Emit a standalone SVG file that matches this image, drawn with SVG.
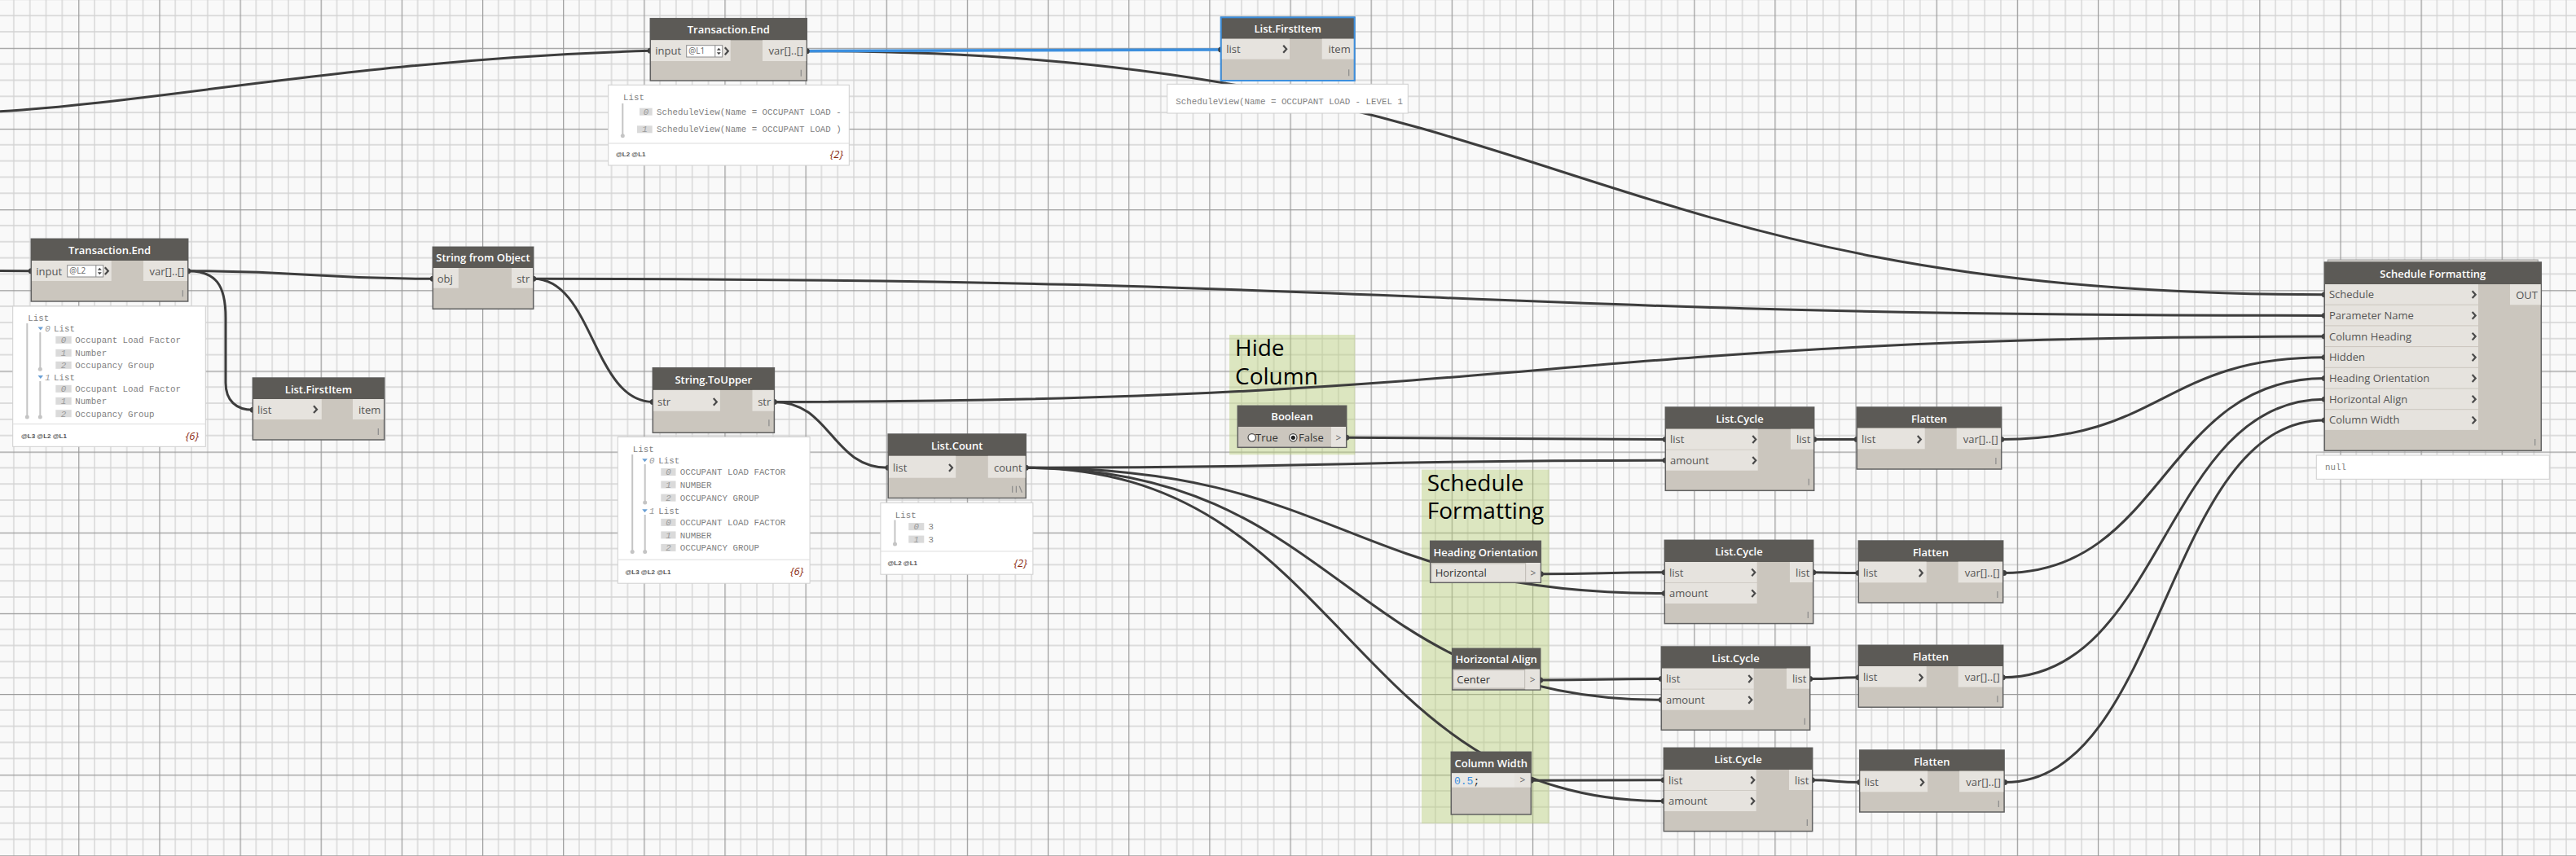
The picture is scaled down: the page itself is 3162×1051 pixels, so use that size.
<svg xmlns="http://www.w3.org/2000/svg" width="3162" height="1051" viewBox="0 0 3162 1051">
<style>
.hd{fill:#5c5a56}
.bd{fill:#cbc6be;stroke:#606060;stroke-width:1.5}
.pt{fill:#e6e3de}
.t{font-family:"Open Sans","Liberation Sans",sans-serif;font-weight:600;font-size:13px;fill:#ffffff;text-anchor:middle}
.p{font-family:"Open Sans","Liberation Sans",sans-serif;font-size:13px;fill:#555555}
.pe{font-family:"Open Sans","Liberation Sans",sans-serif;font-size:13px;fill:#555555;text-anchor:end}
.dk{font-family:"Open Sans","Liberation Sans",sans-serif;font-size:13px;fill:#333333}
.gy{font-family:"Open Sans","Liberation Sans",sans-serif;font-size:12px;fill:#666666;text-anchor:middle}
.ch{fill:none;stroke:#4a4a4a;stroke-width:2.2}
.lc{stroke:#8a8a8a;stroke-width:1.2}
.wb{fill:#ffffff;stroke:#cfcfcf;stroke-width:1}
.dv{stroke:#dcdcdc;stroke-width:1}
.m{font-family:"Liberation Mono","DejaVu Sans Mono",monospace;font-size:10.8px;fill:#7f7f7f}
.ib{fill:#dadada}
.ix{font-family:"Liberation Mono","DejaVu Sans Mono",monospace;font-style:italic;font-size:10.8px;fill:#999999;text-anchor:middle}
.tl{stroke:#c4c4c4;stroke-width:2}
.dt{fill:#c4c4c4}
.tri{fill:#6a9fd4}
.ft{font-family:"Liberation Sans",sans-serif;font-weight:bold;font-size:8px;fill:#555555}
.cn{font-family:"Open Sans","Liberation Sans",sans-serif;font-style:italic;font-size:13px;fill:#8b2b12;text-anchor:end}
.c{fill:none;stroke:#3d3d3d;stroke-width:3}
.cb{fill:none;stroke:#3c8fde;stroke-width:3.5}
.pin{fill:#3d3d3d}
.grp{fill:#b9cf7a;fill-opacity:0.45}
.gt{font-family:"Open Sans","Liberation Sans",sans-serif;font-size:28px;fill:#000000}
.sp{fill:#444444}
.ibx{fill:#ffffff;stroke:#8a8a8a;stroke-width:1}
.ibt{font-family:"Open Sans","Liberation Sans",sans-serif;font-size:10px;fill:#666666}
.dd{fill:#e6e3de;stroke:#bdb9b3;stroke-width:1}
</style>
<defs>
<pattern id="grid" x="96.2" y="58.8" width="99.15" height="99.15" patternUnits="userSpaceOnUse">
<rect width="99.15" height="99.15" fill="#f9f9f9"/>
<path d="M19.83 0V99.15M39.66 0V99.15M59.49 0V99.15M79.32 0V99.15M0 19.83H99.15M0 39.66H99.15M0 59.49H99.15M0 79.32H99.15" stroke="#d3d3d3" stroke-width="1.3"/>
<path d="M0.6 0V99.15M0 0.6H99.15" stroke="#9a9a9a" stroke-width="1.2"/>
</pattern>
</defs>
<rect width="3162" height="1051" fill="url(#grid)"/>

<g id="group-hide-column">
<rect class="grp" x="1509" y="411" width="154.3" height="147.3"/>
<text class="gt" x="1516" y="437">Hide</text>
<text class="gt" x="1516" y="472">Column</text>
</g>
<g id="group-schedule-formatting">
<rect class="grp" x="1745" y="576.7" width="156.7" height="434.3"/>
<text class="gt" x="1751.7" y="603">Schedule</text>
<text class="gt" x="1751.7" y="637">Formatting</text>
</g>

<g id="connectors">
<path class="c" d="M0,136.7 C200,125 450,72 798.3,62.3"/>
<path class="c" d="M990.3,62.7 C1921.8,62.7 1921.8,361.7 2853.3,361.7"/>
<path class="cb" d="M990.3,62.7 C1244.5,62.7 1244.5,61 1498.7,61"/>
<path class="c" d="M0,332.5 L38.3,332.7"/>
<path class="c" d="M230.7,332.7 C381,332.7 381,342.3 531.3,342.3"/>
<path class="c" d="M230.7,332.7 C265,332.7 277,350 277,390 L277,470 C277,492 290,503.3 310.3,503.3"/>
<path class="c" d="M654.7,342.3 C1754,342.3 1754,387.4 2853.3,387.4"/>
<path class="c" d="M654.7,342.3 C728,342.3 728,493.4 801.3,493.4"/>
<path class="c" d="M950.4,493.4 C1901.9,493.4 1901.9,413.1 2853.3,413.1"/>
<path class="c" d="M950.4,493.4 C1020.3,493.4 1020.3,574.3 1090.2,574.3"/>
<path class="c" d="M1652.7,537.3 C1848.5,537.3 1848.5,539.5 2044.3,539.5"/>
<path class="c" d="M1259.3,574.3 C1651.8,574.3 1651.8,565.3 2044.3,565.3"/>
<path class="c" d="M1259.3,574.3 C1651.3,574.3 1651.3,728.6 2043.3,728.6"/>
<path class="c" d="M1259.3,574.3 C1649.3,574.3 1649.3,859.3 2039.3,859.3"/>
<path class="c" d="M1259.3,574.3 C1650.8,574.3 1650.8,983.6 2042.3,983.6"/>
<path class="c" d="M1891.3,704.7 C1967.3,704.7 1967.3,702.8 2043.3,702.8"/>
<path class="c" d="M1890.7,835 C1965,835 1965,833.5 2039.3,833.5"/>
<path class="c" d="M1879.3,958.3 C1960.8,958.3 1960.8,957.8 2042.3,957.8"/>
<path class="c" d="M2226.7,539.5 C2253,539.5 2253,539.5 2279.3,539.5"/>
<path class="c" d="M2225.7,702.8 C2253.5,702.8 2253.5,703.5 2281.3,703.5"/>
<path class="c" d="M2221.7,833.5 C2251.5,833.5 2251.5,831.8 2281.3,831.8"/>
<path class="c" d="M2224.3,957.8 C2253.5,957.8 2253.5,960.5 2282.7,960.5"/>
<path class="c" d="M2456.7,539.5 C2655,539.5 2655,438.8 2853.3,438.8"/>
<path class="c" d="M2459.7,703.5 C2656.5,703.5 2656.5,464.5 2853.3,464.5"/>
<path class="c" d="M2458.3,831.8 C2655.8,831.8 2655.8,490.2 2853.3,490.2"/>
<path class="c" d="M2460.7,960.5 C2657,960.5 2657,515.9 2853.3,515.9"/>
<g class="pin">
<circle cx="798.3" cy="62.3" r="3.5"/><circle cx="990.3" cy="62.7" r="3.5"/><circle cx="1498.7" cy="61" r="3.5"/>
<circle cx="38.3" cy="332.7" r="3.5"/><circle cx="230.7" cy="332.7" r="3.5"/><circle cx="531.3" cy="342.3" r="3.5"/>
<circle cx="310.3" cy="503.3" r="3.5"/><circle cx="654.7" cy="342.3" r="3.5"/><circle cx="801.3" cy="493.4" r="3.5"/>
<circle cx="950.4" cy="493.4" r="3.5"/><circle cx="1090.2" cy="574.3" r="3.5"/><circle cx="1259.3" cy="574.3" r="3.5"/>
<circle cx="1652.7" cy="537.3" r="3.5"/><circle cx="1891.3" cy="704.7" r="3.5"/><circle cx="1890.7" cy="835" r="3.5"/><circle cx="1879.3" cy="958.3" r="3.5"/>
<circle cx="2044.3" cy="539.5" r="3.5"/><circle cx="2044.3" cy="565.3" r="3.5"/><circle cx="2043.3" cy="702.8" r="3.5"/><circle cx="2043.3" cy="728.6" r="3.5"/>
<circle cx="2039.3" cy="833.5" r="3.5"/><circle cx="2039.3" cy="859.3" r="3.5"/><circle cx="2042.3" cy="957.8" r="3.5"/><circle cx="2042.3" cy="983.6" r="3.5"/>
<circle cx="2226.7" cy="539.5" r="3.5"/><circle cx="2225.7" cy="702.8" r="3.5"/><circle cx="2221.7" cy="833.5" r="3.5"/><circle cx="2224.3" cy="957.8" r="3.5"/>
<circle cx="2279.3" cy="539.5" r="3.5"/><circle cx="2281.3" cy="703.5" r="3.5"/><circle cx="2281.3" cy="831.8" r="3.5"/><circle cx="2282.7" cy="960.5" r="3.5"/>
<circle cx="2456.7" cy="539.5" r="3.5"/><circle cx="2459.7" cy="703.5" r="3.5"/><circle cx="2458.3" cy="831.8" r="3.5"/><circle cx="2460.7" cy="960.5" r="3.5"/>
<circle cx="2853.3" cy="361.7" r="3.5"/><circle cx="2853.3" cy="387.4" r="3.5"/><circle cx="2853.3" cy="413.1" r="3.5"/><circle cx="2853.3" cy="438.8" r="3.5"/>
<circle cx="2853.3" cy="464.5" r="3.5"/><circle cx="2853.3" cy="490.2" r="3.5"/><circle cx="2853.3" cy="515.9" r="3.5"/>
</g>
</g>

<g id="node-transaction-end-1" transform="translate(798.3,22.7)">
<rect class="bd" width="192" height="76.3"/>
<rect class="hd" width="192" height="26.6"/>
<text class="t" x="96" y="18.5">Transaction.End</text>
<rect class="pt" x="0.8" y="26.6" width="97.6" height="25.7"/>
<text class="p" x="6" y="44.8">input</text>
<rect class="ibx" x="44.4" y="33" width="44" height="14.3"/>
<text class="ibt" x="47" y="43.8">@L1</text>
<line x1="79.5" y1="33" x2="79.5" y2="47.3" stroke="#8a8a8a"/>
<polygon class="sp" points="81.5,39 86.5,39 84,36"/>
<polygon class="sp" points="81.5,41.5 86.5,41.5 84,44.5"/>
<polyline class="ch" points="91.5,35.5 95.5,40 91.5,44.5"/>
<rect class="pt" x="137.7" y="26.6" width="53.5" height="25.7"/>
<text class="pe" x="188" y="44.8">var[]..[]</text>
<line class="lc" x1="185" y1="63" x2="185" y2="71"/>
</g>
<g id="watch-transaction-end-1">
<rect class="wb" x="746.7" y="104.3" width="295.6" height="98.7"/>
<line class="dv" x1="746.7" y1="176" x2="1042.3" y2="176"/>
<text class="m" x="765" y="123">List</text>
<line class="tl" x1="764.3" y1="127" x2="764.3" y2="166.7"/><circle class="dt" cx="764.3" cy="166.7" r="2.5"/>
<rect class="ib" x="785" y="132.7" width="15.7" height="9"/><text class="ix" x="793" y="140.5">0</text>
<text class="m" x="806" y="140.5">ScheduleView(Name = OCCUPANT LOAD -</text>
<rect class="ib" x="782" y="154.3" width="18.7" height="9"/><text class="ix" x="791.5" y="162">1</text>
<text class="m" x="806" y="162">ScheduleView(Name = OCCUPANT LOAD )</text>
<text class="ft" x="756" y="192">@L2 @L1</text>
<text class="cn" x="1035" y="194">{2}</text>
</g>

<g id="node-list-firstitem-1" transform="translate(1498.7,21.3)">
<rect class="bd" width="164" height="77.7"/>
<rect class="hd" width="164" height="26.4"/>
<text class="t" x="82" y="18.5">List.FirstItem</text>
<rect class="pt" x="0.8" y="26.4" width="83.5" height="25"/>
<text class="p" x="6.6" y="44">list</text>
<polyline class="ch" points="76.5,34.5 80.5,39 76.5,43.5"/>
<rect class="pt" x="124" y="26.4" width="39.2" height="25"/>
<text class="pe" x="159" y="44">item</text>
<line class="lc" x1="157" y1="64" x2="157" y2="72"/>
<rect width="164" height="77.7" fill="none" stroke="#3c8fde" stroke-width="2"/>
</g>
<g id="watch-list-firstitem-1">
<rect class="wb" x="1432.7" y="103.3" width="295.6" height="35.7"/>
<text class="m" x="1443.3" y="128">ScheduleView(Name = OCCUPANT LOAD - LEVEL 1</text>
</g>

<g id="node-transaction-end-2" transform="translate(38.3,293.3)">
<rect class="bd" width="192.4" height="76.7"/>
<rect class="hd" width="192.4" height="26.7"/>
<text class="t" x="96.2" y="18.5">Transaction.End</text>
<rect class="pt" x="0.8" y="26.7" width="97.6" height="25"/>
<text class="p" x="6" y="44.5">input</text>
<rect class="ibx" x="44.4" y="32.4" width="44" height="14.3"/>
<text class="ibt" x="47" y="43.2">@L2</text>
<line x1="79.5" y1="32.4" x2="79.5" y2="46.7" stroke="#8a8a8a"/>
<polygon class="sp" points="81.5,38.4 86.5,38.4 84,35.4"/>
<polygon class="sp" points="81.5,40.9 86.5,40.9 84,43.9"/>
<polyline class="ch" points="90.5,35 94.5,39.4 90.5,43.8"/>
<rect class="pt" x="137.7" y="26.7" width="53.9" height="25"/>
<text class="pe" x="188" y="44.5">var[]..[]</text>
<line class="lc" x1="186" y1="63" x2="186" y2="71"/>
</g>
<g id="watch-transaction-end-2">
<rect class="wb" x="15.7" y="376" width="236.6" height="172.3"/>
<line class="dv" x1="15.7" y1="520.7" x2="252.3" y2="520.7"/>
<text class="m" x="34.3" y="394">List</text>
<line class="tl" x1="33.3" y1="397" x2="33.3" y2="512"/><circle class="dt" cx="33.3" cy="512" r="2.5"/>
<polygon class="tri" points="46.5,401.5 53,401.5 49.8,405.5"/>
<text class="ix" x="58.5" y="407">0</text><text class="m" x="66" y="407">List</text>
<line class="tl" x1="49.3" y1="408" x2="49.3" y2="453.3"/><circle class="dt" cx="49.3" cy="453.3" r="2.5"/>
<rect class="ib" x="68.3" y="412.8" width="19.4" height="9"/><text class="ix" x="78" y="421">0</text><text class="m" x="92.3" y="421">Occupant Load Factor</text>
<rect class="ib" x="68.3" y="428.8" width="19.4" height="9"/><text class="ix" x="78" y="437">1</text><text class="m" x="92.3" y="437">Number</text>
<rect class="ib" x="68.3" y="443.8" width="19.4" height="9"/><text class="ix" x="78" y="452">2</text><text class="m" x="92.3" y="452">Occupancy Group</text>
<polygon class="tri" points="46.5,461 53,461 49.8,465"/>
<text class="ix" x="58.5" y="466.5">1</text><text class="m" x="66" y="466.5">List</text>
<line class="tl" x1="49.3" y1="468" x2="49.3" y2="512"/><circle class="dt" cx="49.3" cy="512" r="2.5"/>
<rect class="ib" x="68.3" y="472.8" width="19.4" height="9"/><text class="ix" x="78" y="481">0</text><text class="m" x="92.3" y="481">Occupant Load Factor</text>
<rect class="ib" x="68.3" y="487.8" width="19.4" height="9"/><text class="ix" x="78" y="496">1</text><text class="m" x="92.3" y="496">Number</text>
<rect class="ib" x="68.3" y="503.2" width="19.4" height="9"/><text class="ix" x="78" y="511.5">2</text><text class="m" x="92.3" y="511.5">Occupancy Group</text>
<text class="ft" x="26" y="538">@L3 @L2 @L1</text>
<text class="cn" x="244" y="540">{6}</text>
</g>

<g id="node-list-firstitem-2" transform="translate(310.3,464)">
<rect class="bd" width="161.4" height="76"/>
<rect class="hd" width="161.4" height="26"/>
<text class="t" x="80.7" y="18.5">List.FirstItem</text>
<rect class="pt" x="0.8" y="26" width="83.7" height="25"/>
<text class="p" x="5.7" y="44">list</text>
<polyline class="ch" points="74.7,34.3 78.7,38.7 74.7,43.1"/>
<rect class="pt" x="122.7" y="26" width="38" height="25"/>
<text class="pe" x="157" y="44">item</text>
<line class="lc" x1="154" y1="62" x2="154" y2="70"/>
</g>

<g id="node-string-from-object" transform="translate(531.3,303.3)">
<rect class="bd" width="123.4" height="76"/>
<rect class="hd" width="123.4" height="25.7"/>
<text class="t" x="61.7" y="18">String from Object</text>
<rect class="pt" x="0.8" y="25.7" width="30.7" height="24.7"/>
<text class="p" x="5.4" y="43.3">obj</text>
<rect class="pt" x="96.7" y="25.7" width="26" height="24.7"/>
<text class="pe" x="119" y="43.3">str</text>
</g>

<g id="node-string-toupper" transform="translate(801.3,451.7)">
<rect class="bd" width="149.1" height="79.6"/>
<rect class="hd" width="149.1" height="27.2"/>
<text class="t" x="74.5" y="19">String.ToUpper</text>
<rect class="pt" x="0.8" y="27.2" width="81.8" height="25.8"/>
<text class="p" x="5.7" y="46">str</text>
<polyline class="ch" points="74.5,37.3 78.5,41.7 74.5,46.1"/>
<rect class="pt" x="122.2" y="27.2" width="26.1" height="25.8"/>
<text class="pe" x="145" y="46">str</text>
<line class="lc" x1="142.6" y1="63.5" x2="142.6" y2="71.5"/>
</g>
<g id="watch-string-toupper">
<rect class="wb" x="758.3" y="536.4" width="235.8" height="179.8"/>
<line class="dv" x1="758.3" y1="687.2" x2="994.1" y2="687.2"/>
<text class="m" x="776.8" y="555">List</text>
<line class="tl" x1="776.2" y1="558" x2="776.2" y2="677.6"/><circle class="dt" cx="776.2" cy="677.6" r="2.5"/>
<polygon class="tri" points="788.2,563.3 794.8,563.3 791.5,567.3"/>
<text class="ix" x="800.3" y="568.8">0</text><text class="m" x="808.2" y="568.8">List</text>
<line class="tl" x1="791.7" y1="570" x2="791.7" y2="617"/><circle class="dt" cx="791.7" cy="617" r="2.5"/>
<rect class="ib" x="811.3" y="575" width="18.2" height="9"/><text class="ix" x="820.4" y="583.3">0</text><text class="m" x="834.7" y="583.3">OCCUPANT LOAD FACTOR</text>
<rect class="ib" x="811.3" y="590.5" width="18.2" height="9"/><text class="ix" x="820.4" y="598.8">1</text><text class="m" x="834.7" y="598.8">NUMBER</text>
<rect class="ib" x="811.3" y="606.6" width="18.2" height="9"/><text class="ix" x="820.4" y="614.9">2</text><text class="m" x="834.7" y="614.9">OCCUPANCY GROUP</text>
<polygon class="tri" points="788.2,625.3 794.8,625.3 791.5,629.3"/>
<text class="ix" x="800.3" y="630.8">1</text><text class="m" x="808.2" y="630.8">List</text>
<line class="tl" x1="791.7" y1="632" x2="791.7" y2="677.6"/><circle class="dt" cx="791.7" cy="677.6" r="2.5"/>
<rect class="ib" x="811.3" y="636.9" width="18.2" height="9"/><text class="ix" x="820.4" y="645.2">0</text><text class="m" x="834.7" y="645.2">OCCUPANT LOAD FACTOR</text>
<rect class="ib" x="811.3" y="652.4" width="18.2" height="9"/><text class="ix" x="820.4" y="660.7">1</text><text class="m" x="834.7" y="660.7">NUMBER</text>
<rect class="ib" x="811.3" y="667.9" width="18.2" height="9"/><text class="ix" x="820.4" y="676.2">2</text><text class="m" x="834.7" y="676.2">OCCUPANCY GROUP</text>
<text class="ft" x="767.5" y="704.5">@L3 @L2 @L1</text>
<text class="cn" x="986.2" y="706">{6}</text>
</g>

<g id="node-list-count" transform="translate(1090.2,533)">
<rect class="bd" width="169.1" height="78.5"/>
<rect class="hd" width="169.1" height="26.8"/>
<text class="t" x="84.5" y="19">List.Count</text>
<rect class="pt" x="0.8" y="26.8" width="82.2" height="26.9"/>
<text class="p" x="5.7" y="45.5">list</text>
<polyline class="ch" points="74.8,36.9 78.8,41.3 74.8,45.7"/>
<rect class="pt" x="122.6" y="26.8" width="45.7" height="26.9"/>
<text class="pe" x="164.5" y="45.5">count</text>
<line class="lc" x1="152.5" y1="63.8" x2="152.5" y2="71.8"/>
<line class="lc" x1="157.2" y1="63.8" x2="157.2" y2="71.8"/>
<line class="lc" x1="161" y1="63.8" x2="164.3" y2="71.8"/>
</g>
<g id="watch-list-count">
<rect class="wb" x="1080.9" y="617.3" width="187" height="87.9"/>
<line class="dv" x1="1080.9" y1="676.9" x2="1267.9" y2="676.9"/>
<text class="m" x="1098.8" y="635.6">List</text>
<line class="tl" x1="1098.5" y1="638.5" x2="1098.5" y2="668"/><circle class="dt" cx="1098.5" cy="668" r="2.5"/>
<rect class="ib" x="1115.3" y="642.1" width="19" height="9"/><text class="ix" x="1124.8" y="650.4">0</text><text class="m" x="1139.5" y="650.4">3</text>
<rect class="ib" x="1115.3" y="657.6" width="19" height="9"/><text class="ix" x="1124.8" y="665.9">1</text><text class="m" x="1139.5" y="665.9">3</text>
<text class="ft" x="1089.5" y="694">@L2 @L1</text>
<text class="cn" x="1260.7" y="696">{2}</text>
</g>

<g id="node-boolean" transform="translate(1519.3,498.3)">
<rect class="bd" width="133.4" height="51"/>
<rect class="hd" width="133.4" height="25.7"/>
<text class="t" x="66.7" y="18">Boolean</text>
<rect class="pt" x="114.7" y="25.7" width="18" height="24.6"/>
<text class="gy" x="123.7" y="43.5">&gt;</text>
<circle cx="17.4" cy="39" r="4.7" fill="#ffffff" stroke="#444444" stroke-width="1.2"/>
<text class="dk" x="21.7" y="43.5">True</text>
<circle cx="68" cy="39" r="4.7" fill="#ffffff" stroke="#444444" stroke-width="1.2"/>
<circle cx="68" cy="39" r="2.6" fill="#222222"/>
<text class="dk" x="74.7" y="43.5">False</text>
</g>

<g id="node-heading-orientation" transform="translate(1755.7,664.3)">
<rect class="bd" width="135.6" height="51"/>
<rect class="hd" width="135.6" height="26.7"/>
<text class="t" x="67.8" y="18.7">Heading Orientation</text>
<rect class="dd" x="1.3" y="27.7" width="115.7" height="22.3"/>
<text class="dk" x="6" y="43.8">Horizontal</text>
<rect class="pt" x="117.5" y="26.7" width="17.4" height="23.6"/>
<text class="gy" x="126.3" y="43.5">&gt;</text>
</g>

<g id="node-horizontal-align" transform="translate(1782.7,796.3)">
<rect class="bd" width="108" height="50.7"/>
<rect class="hd" width="108" height="25.4"/>
<text class="t" x="54" y="18">Horizontal Align</text>
<rect class="dd" x="1.3" y="26.4" width="87.7" height="22.3"/>
<text class="dk" x="5.6" y="43.2">Center</text>
<rect class="pt" x="89.5" y="25.4" width="17.8" height="24.6"/>
<text class="gy" x="98.5" y="43.2">&gt;</text>
</g>

<g id="node-column-width" transform="translate(1781.3,923.3)">
<rect class="bd" width="98" height="76.7"/>
<rect class="hd" width="98" height="26"/>
<text class="t" x="49" y="18.7">Column Width</text>
<rect x="0.8" y="26" width="76.9" height="17.4" fill="#e9e7e3"/>
<text x="3.7" y="39.6" font-family="Liberation Mono,DejaVu Sans Mono,monospace" font-size="13px"><tspan fill="#3b8fe0">0.5</tspan><tspan fill="#333333">;</tspan></text>
<rect class="pt" x="77.7" y="26" width="19.6" height="17.4"/>
<text class="gy" x="87.6" y="39">&gt;</text>
</g>

<g id="node-list-cycle-1" transform="translate(2044.3,500)">
<rect class="bd" width="182.4" height="102.3"/>
<rect class="hd" width="182.4" height="26.7"/>
<text class="t" x="91.2" y="19">List.Cycle</text>
<rect class="pt" x="0.8" y="26.7" width="112.6" height="25"/>
<rect class="pt" x="0.8" y="52.5" width="112.6" height="25.2"/>
<text class="p" x="5.7" y="44.3">list</text>
<text class="p" x="5.7" y="70">amount</text>
<polyline class="ch" points="107,35.1 111,39.5 107,43.9"/>
<polyline class="ch" points="107,60.9 111,65.3 107,69.7"/>
<rect class="pt" x="153.7" y="26.7" width="28" height="25"/>
<text class="pe" x="178" y="44.3">list</text>
<line class="lc" x1="176" y1="87.7" x2="176" y2="95.7"/>
</g>
<g id="node-list-cycle-2" transform="translate(2043.3,663.3)">
<rect class="bd" width="182.4" height="102.3"/>
<rect class="hd" width="182.4" height="26.7"/>
<text class="t" x="91.2" y="19">List.Cycle</text>
<rect class="pt" x="0.8" y="26.7" width="112.6" height="25"/>
<rect class="pt" x="0.8" y="52.5" width="112.6" height="25.2"/>
<text class="p" x="5.7" y="44.3">list</text>
<text class="p" x="5.7" y="70">amount</text>
<polyline class="ch" points="107,35.1 111,39.5 107,43.9"/>
<polyline class="ch" points="107,60.9 111,65.3 107,69.7"/>
<rect class="pt" x="153.7" y="26.7" width="28" height="25"/>
<text class="pe" x="178" y="44.3">list</text>
<line class="lc" x1="176" y1="87.7" x2="176" y2="95.7"/>
</g>
<g id="node-list-cycle-3" transform="translate(2039.3,794)">
<rect class="bd" width="182.4" height="102.3"/>
<rect class="hd" width="182.4" height="26.7"/>
<text class="t" x="91.2" y="19">List.Cycle</text>
<rect class="pt" x="0.8" y="26.7" width="112.6" height="25"/>
<rect class="pt" x="0.8" y="52.5" width="112.6" height="25.2"/>
<text class="p" x="5.7" y="44.3">list</text>
<text class="p" x="5.7" y="70">amount</text>
<polyline class="ch" points="107,35.1 111,39.5 107,43.9"/>
<polyline class="ch" points="107,60.9 111,65.3 107,69.7"/>
<rect class="pt" x="153.7" y="26.7" width="28" height="25"/>
<text class="pe" x="178" y="44.3">list</text>
<line class="lc" x1="176" y1="87.7" x2="176" y2="95.7"/>
</g>
<g id="node-list-cycle-4" transform="translate(2042.3,918.3)">
<rect class="bd" width="182.4" height="102.3"/>
<rect class="hd" width="182.4" height="26.7"/>
<text class="t" x="91.2" y="19">List.Cycle</text>
<rect class="pt" x="0.8" y="26.7" width="112.6" height="25"/>
<rect class="pt" x="0.8" y="52.5" width="112.6" height="25.2"/>
<text class="p" x="5.7" y="44.3">list</text>
<text class="p" x="5.7" y="70">amount</text>
<polyline class="ch" points="107,35.1 111,39.5 107,43.9"/>
<polyline class="ch" points="107,60.9 111,65.3 107,69.7"/>
<rect class="pt" x="153.7" y="26.7" width="28" height="25"/>
<text class="pe" x="178" y="44.3">list</text>
<line class="lc" x1="176" y1="87.7" x2="176" y2="95.7"/>
</g>

<g id="node-flatten-1" transform="translate(2279.3,500)">
<rect class="bd" width="177.4" height="76"/>
<rect class="hd" width="177.4" height="25.7"/>
<text class="t" x="88.7" y="18.5">Flatten</text>
<rect class="pt" x="0.8" y="25.7" width="82.6" height="25.6"/>
<text class="p" x="5.7" y="44">list</text>
<polyline class="ch" points="74.5,35.1 78.5,39.5 74.5,43.9"/>
<rect class="pt" x="122.4" y="25.7" width="54.2" height="25.6"/>
<text class="pe" x="173.4" y="44">var[]..[]</text>
<line class="lc" x1="170.6" y1="62" x2="170.6" y2="70"/>
</g>
<g id="node-flatten-2" transform="translate(2281.3,664)">
<rect class="bd" width="177.4" height="76"/>
<rect class="hd" width="177.4" height="25.7"/>
<text class="t" x="88.7" y="18.5">Flatten</text>
<rect class="pt" x="0.8" y="25.7" width="82.6" height="25.6"/>
<text class="p" x="5.7" y="44">list</text>
<polyline class="ch" points="74.5,35.1 78.5,39.5 74.5,43.9"/>
<rect class="pt" x="122.4" y="25.7" width="54.2" height="25.6"/>
<text class="pe" x="173.4" y="44">var[]..[]</text>
<line class="lc" x1="170.6" y1="62" x2="170.6" y2="70"/>
</g>
<g id="node-flatten-3" transform="translate(2281.3,792.3)">
<rect class="bd" width="177.4" height="76"/>
<rect class="hd" width="177.4" height="25.7"/>
<text class="t" x="88.7" y="18.5">Flatten</text>
<rect class="pt" x="0.8" y="25.7" width="82.6" height="25.6"/>
<text class="p" x="5.7" y="44">list</text>
<polyline class="ch" points="74.5,35.1 78.5,39.5 74.5,43.9"/>
<rect class="pt" x="122.4" y="25.7" width="54.2" height="25.6"/>
<text class="pe" x="173.4" y="44">var[]..[]</text>
<line class="lc" x1="170.6" y1="62" x2="170.6" y2="70"/>
</g>
<g id="node-flatten-4" transform="translate(2282.7,921)">
<rect class="bd" width="177.4" height="76"/>
<rect class="hd" width="177.4" height="25.7"/>
<text class="t" x="88.7" y="18.5">Flatten</text>
<rect class="pt" x="0.8" y="25.7" width="82.6" height="25.6"/>
<text class="p" x="5.7" y="44">list</text>
<polyline class="ch" points="74.5,35.1 78.5,39.5 74.5,43.9"/>
<rect class="pt" x="122.4" y="25.7" width="54.2" height="25.6"/>
<text class="pe" x="173.4" y="44">var[]..[]</text>
<line class="lc" x1="170.6" y1="62" x2="170.6" y2="70"/>
</g>

<g id="node-schedule-formatting" transform="translate(2853.3,322)">
<rect x="4" y="-3" width="258" height="12" fill="#d8d4ce" stroke="#9a9a9a" stroke-width="1"/>
<rect class="bd" width="266" height="231.3"/>
<rect class="hd" width="266" height="27"/>
<text class="t" x="133" y="18.8">Schedule Formatting</text>
<rect class="pt" x="0.8" y="27" width="187.9" height="24.7"/>
<rect class="pt" x="0.8" y="52.7" width="187.9" height="24.7"/>
<rect class="pt" x="0.8" y="78.4" width="187.9" height="24.7"/>
<rect class="pt" x="0.8" y="104.1" width="187.9" height="24.7"/>
<rect class="pt" x="0.8" y="129.8" width="187.9" height="24.7"/>
<rect class="pt" x="0.8" y="155.5" width="187.9" height="24.7"/>
<rect class="pt" x="0.8" y="181.2" width="187.9" height="24.7"/>
<text class="p" x="5.7" y="44.2">Schedule</text>
<text class="p" x="5.7" y="69.9">Parameter Name</text>
<text class="p" x="5.7" y="95.6">Column Heading</text>
<text class="p" x="5.7" y="121.3">Hidden</text>
<text class="p" x="5.7" y="147">Heading Orientation</text>
<text class="p" x="5.7" y="172.7">Horizontal Align</text>
<text class="p" x="5.7" y="198.4">Column Width</text>
<polyline class="ch" points="181.4,35.3 185.4,39.7 181.4,44.1"/>
<polyline class="ch" points="181.4,61 185.4,65.4 181.4,69.8"/>
<polyline class="ch" points="181.4,86.7 185.4,91.1 181.4,95.5"/>
<polyline class="ch" points="181.4,112.4 185.4,116.8 181.4,121.2"/>
<polyline class="ch" points="181.4,138.1 185.4,142.5 181.4,146.9"/>
<polyline class="ch" points="181.4,163.8 185.4,168.2 181.4,172.6"/>
<polyline class="ch" points="181.4,189.5 185.4,193.9 181.4,198.3"/>
<rect class="pt" x="227.7" y="27" width="37.5" height="25.3"/>
<text class="pe" x="261.7" y="44.5">OUT</text>
<line class="lc" x1="258.4" y1="217" x2="258.4" y2="225"/>
</g>
<g id="watch-schedule-formatting">
<rect class="wb" x="2843.3" y="559" width="286" height="29.3"/>
<text class="m" x="2854" y="577">null</text>
</g>
</svg>
